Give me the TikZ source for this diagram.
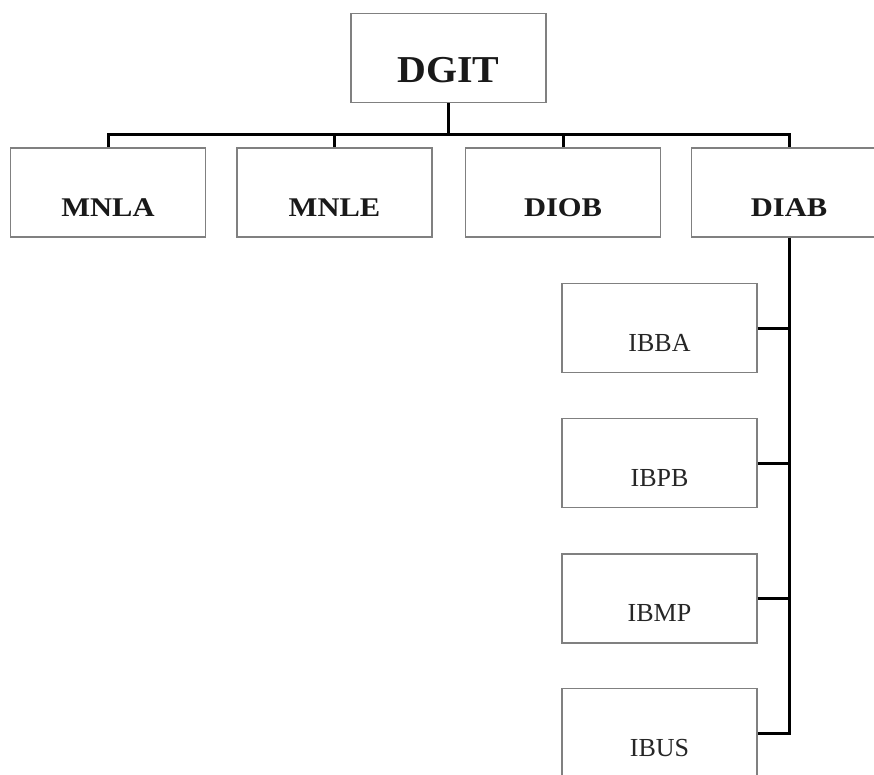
\documentclass[tikz,border=0pt]{standalone}
\usepackage{fontspec}
\setmainfont{Liberation Serif}
\newfontfamily\unitfont[FakeStretch=1.13]{Liberation Serif}
\newfontfamily\headfont[FakeStretch=1.05]{Liberation Serif}
\begin{document}
\begin{tikzpicture}[x=1pt,y=-1pt,
  box/.style={draw=black!50, line width=1.5pt, fill=white,
    minimum width=195pt, minimum height=89pt, inner sep=0pt},
  conn/.style={draw=black, line width=3pt, line join=miter},
  toptext/.style={font=\headfont\bfseries\fontsize{38}{38}\selectfont, text=black!90, yshift=-12pt},
  unittext/.style={font=\unitfont\bfseries\fontsize{27}{27}\selectfont, text=black!90, yshift=-15pt},
  subtext/.style={font=\fontsize{26}{26}\selectfont, text=black!85, yshift=-15pt}]
\useasboundingbox (0,0) rectangle (874,775);
\clip (0,0) rectangle (874,775);

% head office
\node[box, label={[toptext]center:DGIT}] (dgit) at (448.5,58) {};

% first level
\node[box, label={[unittext]center:MNLA}] (mnla) at (108,192.5) {};
\node[box, label={[unittext]center:MNLE}] (mnle) at (334.5,192.5) {};
\node[box, label={[unittext]center:DIOB}] (diob) at (563,192.5) {};
\node[box, label={[unittext]center:DIAB}] (diab) at (789,192.5) {};

% units under DIAB
\node[box, label={[subtext]center:IBBA}] (ibba) at (659.5,328) {};
\node[box, label={[subtext]center:IBPB}] (ibpb) at (659.5,463) {};
\node[box, label={[subtext]center:IBMP}] (ibmp) at (659.5,598.5) {};
\node[box, label={[subtext]center:IBUS}] (ibus) at (659.5,733) {};

\coordinate (bus) at (448.5,135);

% top-level bus
\draw[conn] (dgit.south) -- (bus);
\draw[conn] (mnla.north) -- (mnla.north |- bus) -- (diab.north |- bus) -- (diab.north);
\draw[conn] (mnle.north) -- (mnle.north |- bus);
\draw[conn] (diob.north) -- (diob.north |- bus);

% DIAB branch
\draw[conn] (diab.south) -- (diab.south |- ibus.east) -- (ibus.east);
\draw[conn] (ibba.east) -- (ibba.east -| diab.south);
\draw[conn] (ibpb.east) -- (ibpb.east -| diab.south);
\draw[conn] (ibmp.east) -- (ibmp.east -| diab.south);
\end{tikzpicture}
\end{document}
